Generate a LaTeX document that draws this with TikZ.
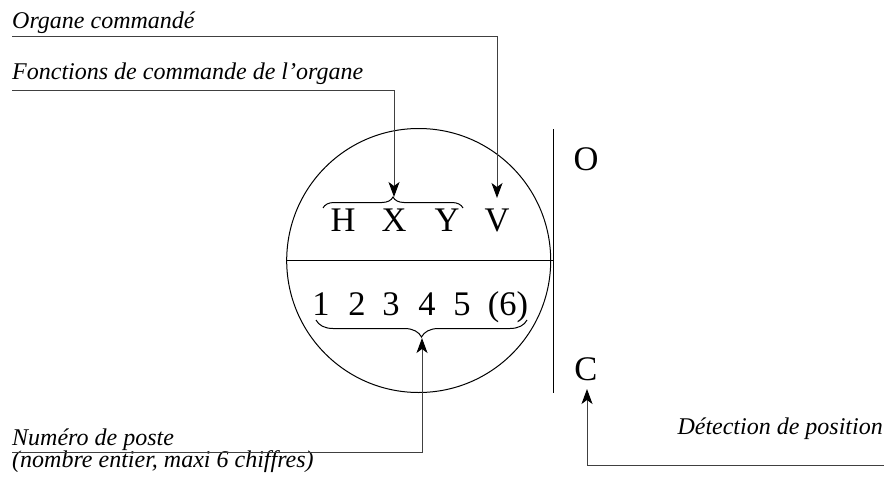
\documentclass[tikz,border=0pt]{standalone}
\usepackage{fontspec}
\setmainfont{Liberation Serif}
\usetikzlibrary{arrows.meta,decorations.pathreplacing}
\begin{document}
\begin{tikzpicture}[x=1pt,y=1pt,
  lbl/.style={font=\itshape\fontsize{24}{27}\selectfont, inner sep=0pt},
  big/.style={font=\fontsize{34.5}{40}\selectfont, inner sep=0pt, anchor=base},
  conn/.style={line width=1pt, draw=black!75},
  arr/.style={conn, -{Stealth[length=15pt,width=11pt,inset=4pt,color=black]}},
  shp/.style={line width=1pt, draw=black},
  brc/.style={line width=1pt, decorate, decoration={brace, amplitude=#1}}]
\useasboundingbox (0,0) rectangle (884,-479);
% circle and lines
\node[shp, circle, minimum size=264pt, inner sep=0pt] (circ) at (418.7,-260.5) {};
\coordinate (dl) at (286.7,-260.7);
\coordinate (dr) at (553.3,-260.7);
\draw[shp] (dl) -- (dr);
\coordinate (vt) at (553.3,-129);
\coordinate (vb) at (553.3,-393);
\draw[shp] (vt) -- (vb);
% letters
\node[big] (H) at (343,-231) {H};
\node[big] (X) at (394,-231) {X};
\node[big] (Y) at (447,-231) {Y};
\node[big] (V) at (497,-231) {V};
\node[big] (n1) at (321,-315) {1};
\node[big] (n2) at (357,-315) {2};
\node[big] (n3) at (391,-315) {3};
\node[big] (n4) at (427,-315) {4};
\node[big] (n5) at (462,-315) {5};
\node[big] (n6) at (508,-315) {(6)};
\node[big] (O) at (586,-170) {O};
\node[big] (C) at (586,-380) {C};
% braces
\coordinate (b1l) at (323,-208);
\coordinate (b1r) at (463,-208);
\draw[brc=11pt] (b1l) -- (b1r);
\coordinate (b2r) at (527,-320);
\coordinate (b2l) at (316,-320);
\draw[brc=17pt] (b2r) -- (b2l);
% labels
\node[lbl, anchor=base west] (org) at (12,-28) {Organe commandé};
\node[lbl, anchor=base west] (fct) at (12,-79) {Fonctions de commande de l’organe};
\node[lbl, anchor=base west] (num) at (12,-445) {Numéro de poste};
\node[lbl, anchor=base west] (nbr) at (12,-467) {(nombre entier, maxi 6 chiffres)};
\node[lbl, anchor=base east] (det) at (883,-434) {Détection de position};
% connectors
\coordinate (orgL) at (12,-36);
\coordinate (orgC) at (497,-36);
\coordinate (tipV) at (497,-198);
\draw[arr] (orgL) -- (orgC) -- (tipV);
\coordinate (fctL) at (12,-90);
\coordinate (fctC) at (394,-90);
\coordinate (tipX) at (394,-197);
\draw[arr] (fctL) -- (fctC) -- (tipX);
\coordinate (numL) at (12,-452.3);
\coordinate (numC) at (422,-452.3);
\coordinate (tipN) at (422,-338);
\draw[arr] (numL) -- (numC) -- (tipN);
\coordinate (detR) at (884,-465);
\coordinate (detC) at (587,-465);
\coordinate (tipC) at (587,-389);
\draw[arr] (detR) -- (detC) -- (tipC);
\end{tikzpicture}
\end{document}
